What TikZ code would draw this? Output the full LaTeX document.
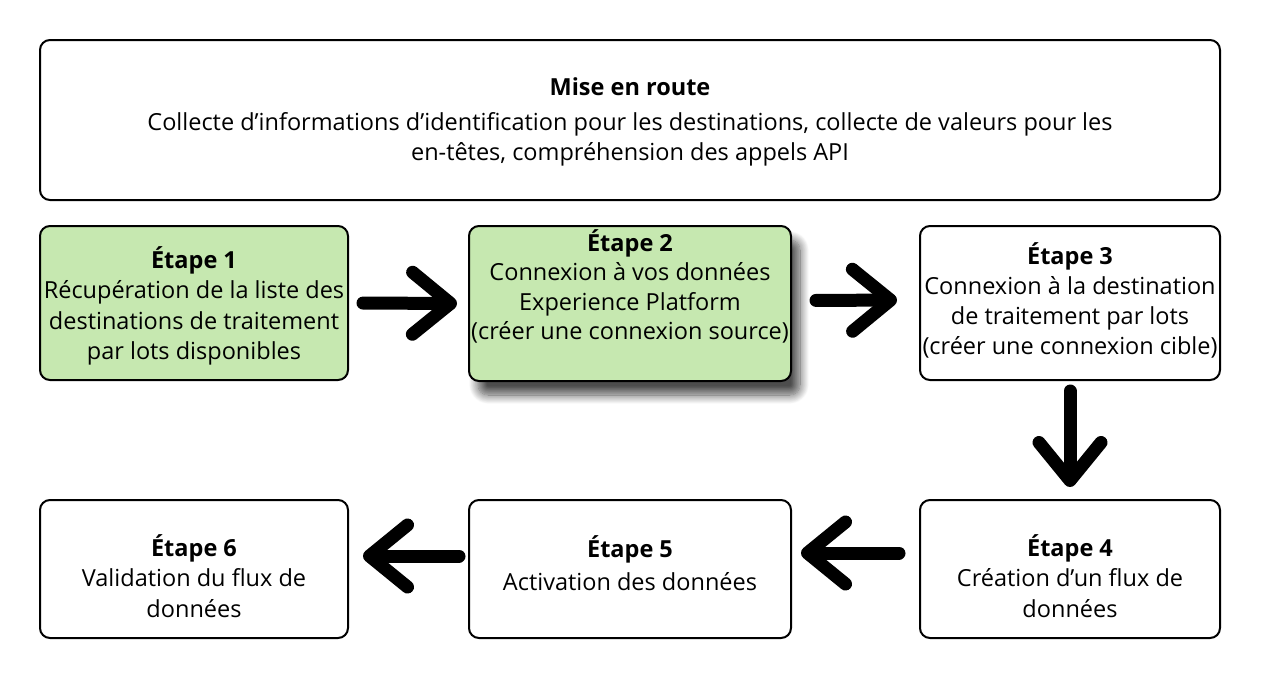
\documentclass[tikz,border=0pt]{standalone}
\usepackage{fontspec}
\setmainfont{Open Sans}
\usetikzlibrary{arrows.meta,shadows.blur}
\definecolor{stepgreen}{HTML}{C6E8B0}

\begin{document}
\begin{tikzpicture}[x=1pt,y=-1pt,
    stepbox/.style={draw,line width=2pt,rounded corners=10pt,inner sep=0pt},
    steptext/.style={align=center,inner sep=0pt,font={\fontsize{23.5}{30.5}\selectfont}},
    done/.style={fill=stepgreen},
    flow/.style={line width=13pt,line cap=round,
        -{Straight Barb[length=38pt,width=62pt,line width=13pt,round]}}]
\useasboundingbox (0,0) rectangle (1264,680);

\node[stepbox,minimum width=1180,minimum height=160] (start) at (630,120) {};
\node[steptext] (starttext) at ([yshift=-2pt]start.center)
    {\textbf{Mise en route}\\[4pt]Collecte d’informations d’identification pour les destinations, collecte de valeurs pour les\\en-têtes, compréhension des appels API};

\node[stepbox,done,minimum width=308,minimum height=154] (s1) at (194,303) {};
\node[steptext] (s1text) at ([yshift=-3pt]s1.center)
    {\textbf{Étape 1}\\Récupération de la liste des\\destinations de traitement\\par lots disponibles};
\node[stepbox,done,minimum width=322,minimum height=155,
    blur shadow={shadow xshift=9pt,shadow yshift=-14pt,shadow blur radius=9pt,
        shadow blur steps=14,shadow opacity=70}] (s2) at (630,303.5) {};
\node[steptext,anchor=north,font={\fontsize{23.5}{29.5}\selectfont}] (s2text) at ([yshift=-4pt]s2.north)
    {\textbf{Étape 2}\\Connexion à vos données\\Experience Platform\\(créer une connexion source)};
\node[stepbox,minimum width=300,minimum height=154] (s3) at (1070,303) {};
\node[steptext,font={\fontsize{23.5}{30}\selectfont}] (s3text) at ([yshift=3pt]s3.center)
    {\textbf{Étape 3}\\Connexion à la destination\\de traitement par lots\\(créer une connexion cible)};
\node[stepbox,minimum width=300,minimum height=138] (s4) at (1070,569) {};
\node[steptext] (s4text) at ([yshift=-7pt]s4.center)
    {\textbf{Étape 4}\\Création d’un flux de\\données};
\node[stepbox,minimum width=322,minimum height=138] (s5) at (630,569) {};
\node[steptext,font={\fontsize{23.5}{33}\selectfont}] (s5text) at ([yshift=6pt]s5.center)
    {\textbf{Étape 5}\\Activation des données};
\node[stepbox,minimum width=308,minimum height=138] (s6) at (194,569) {};
\node[steptext] (s6text) at ([yshift=-7pt]s6.center)
    {\textbf{Étape 6}\\Validation du flux de\\données};

\draw[flow,shorten <=14pt,shorten >=11pt] (s1.east) -- (s2.west);
\draw[flow,shorten <=24pt,shorten >=22pt] ([yshift=3pt]s2.east) -- ([yshift=3pt]s3.west);
\draw[flow,shorten <=10pt,shorten >=12pt] (s3.south) -- (s4.north);
\draw[flow,shorten <=20pt,shorten >=9pt] ([yshift=16pt]s4.west) -- ([yshift=16pt]s5.east);
\draw[flow,shorten <=9pt,shorten >=14pt] ([yshift=13pt]s5.west) -- ([yshift=13pt]s6.east);

\end{tikzpicture}
\end{document}
